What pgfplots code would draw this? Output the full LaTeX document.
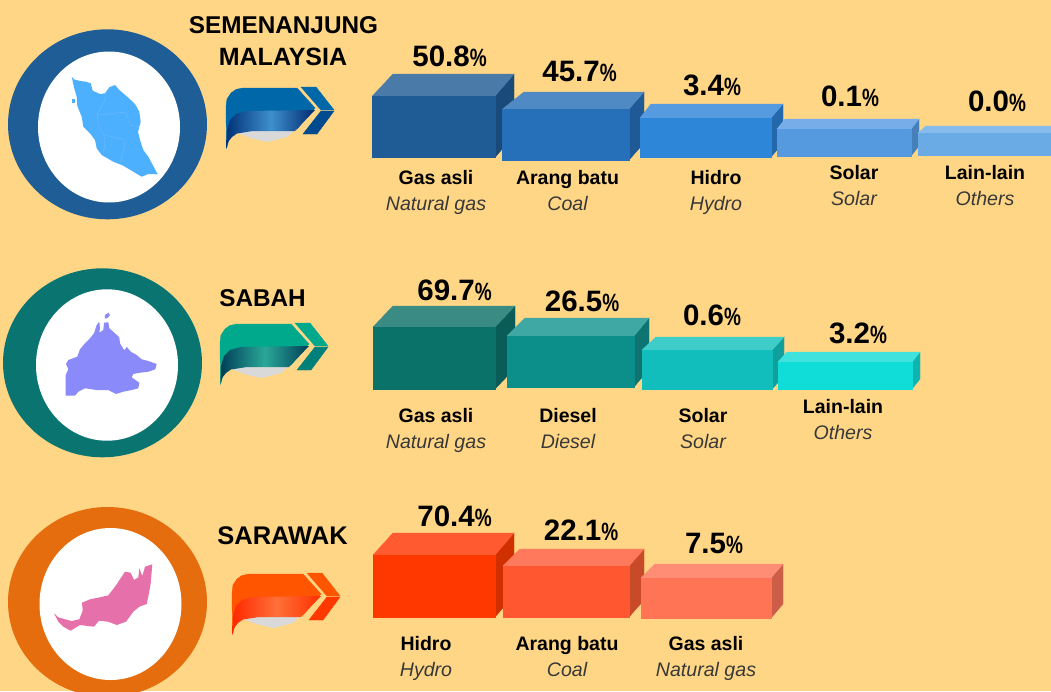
\documentclass[border=0pt]{standalone}
\usepackage{pgfplots}
\pgfplotsset{compat=1.18}
\usepackage{fontspec}
\setmainfont{Liberation Sans}
\definecolor{bgc}{HTML}{FFD685}
\definecolor{c1a}{HTML}{0068A8}\definecolor{c1b}{HTML}{003378}\definecolor{c1c}{HTML}{3F8FCC}\definecolor{c1d}{HTML}{002A70}\definecolor{c1e}{HTML}{004A90}
\definecolor{c2a}{HTML}{00A88C}\definecolor{c2b}{HTML}{003E58}\definecolor{c2c}{HTML}{2AA898}\definecolor{c2d}{HTML}{003E58}\definecolor{c2e}{HTML}{008078}
\definecolor{c3a}{HTML}{FF5500}\definecolor{c3b}{HTML}{FF2800}\definecolor{c3c}{HTML}{FF7038}\definecolor{c3d}{HTML}{FF3000}\definecolor{c3e}{HTML}{FF3800}
\newcommand{\bx}[9]{% prefix,xl,xr,yt,yb,bl,br,yback,yside-bottom
 \addplot[fill=#1s,draw=#1s,line width=.4pt,forget plot] coordinates {(#3,#4) (#7,#8) (#7,#9) (#3,#5)} --cycle;
 \addplot[fill=#1t,draw=#1t,line width=.4pt,forget plot] coordinates {(#2,#4) (#6,#8) (#7,#8) (#3,#4)} --cycle;
 \addplot[fill=#1f,draw=#1f,line width=.4pt,forget plot] coordinates {(#2,#4) (#3,#4) (#3,#5) (#2,#5)} --cycle;
}
\newcommand{\cols}[4]{\definecolor{#1f}{HTML}{#2}\definecolor{#1t}{HTML}{#3}\definecolor{#1s}{HTML}{#4}}
\newcommand{\val}[3]{\node[anchor=base,inner sep=0pt] at (axis cs:#1,#2) {{\fontsize{29.5}{29.5}\selectfont\bfseries #3}\scalebox{0.76}[1]{\fontsize{25}{25}\selectfont\bfseries\%}};}
\newcommand{\lab}[5]{%
 \node[anchor=base,inner sep=0pt] at (axis cs:#1,#2) {\fontsize{19.5}{19.5}\selectfont\bfseries #4};
 \node[anchor=base,inner sep=0pt,text=black!78] at (axis cs:#1,#3) {\fontsize{19.6}{19.6}\selectfont\itshape #5};}
\newcommand{\head}[4]{\node[anchor=base,inner sep=0pt] at (axis cs:#1,#2) {\fontsize{#4}{#4}\selectfont\bfseries #3};}
\newcommand{\ribbon}[7]{% xshift, yshift, top, dark left, mid, dark right, chevron low
 \addplot[fill=white!85!black,draw=none,forget plot,xshift=#1pt,yshift=#2pt] coordinates {(238,133) (253,130) (295,130) (287,137) (267,142) (250,138)} --cycle;
 \addplot[fill=#3,draw=#3,forget plot,xshift=#1pt,yshift=#2pt] coordinates {(226.5,148) (226,107) (227,99) (231,93) (236,89.5) (243,88) (297,88) (315,108) (297,129) (240,129) (230,136)} --cycle;
 \path[left color=#4,right color=#6,middle color=#5,draw=none,xshift=#1pt,yshift=#2pt] (axis cs:226.5,149) -- (axis cs:227,130) -- (axis cs:230,120) -- (axis cs:236,114) -- (axis cs:247,111) -- (axis cs:315,110) -- (axis cs:295,131) -- (axis cs:253,131) -- (axis cs:237,133.5) -- (axis cs:232,137) -- (axis cs:228,142) -- cycle;
 \addplot[fill=#3,draw=#3,forget plot,xshift=#1pt,yshift=#2pt] coordinates {(301,87) (316,87) (334,110) (321,110)} --cycle;
 \addplot[fill=#7,draw=#7,forget plot,xshift=#1pt,yshift=#2pt] coordinates {(321,111) (334,111) (317,134) (303,134)} --cycle;
}
\cols{a}{1F5C96}{4A7BA8}{1A4A7A}
\cols{b}{2570B8}{4F8AC4}{1F5A96}
\cols{d}{2E86D8}{569BE0}{2468AC}
\cols{e}{559ADF}{77ADE8}{4580B8}
\cols{g}{6BABE5}{85BCEC}{5590C0}
\cols{h}{0B7269}{3B8B85}{0A5C58}
\cols{i}{0C8F8B}{3FA8A4}{0D7472}
\cols{j}{11BEBC}{3ECDC9}{0F9F9D}
\cols{k}{10DCD8}{3FE2DC}{0EB5B0}
\cols{m}{FF3800}{FF5A30}{D03000}
\cols{n}{FF5730}{FF7A5C}{C84A28}
\cols{o}{FF7455}{FF8D75}{CC5E48}
\definecolor{mapa}{RGB}{77,176,255}
\definecolor{mapb}{RGB}{138,138,250}
\definecolor{mapc}{RGB}{230,112,170}
\definecolor{mapl}{RGB}{110,190,255}
\begin{document}
\begin{tikzpicture}
\begin{axis}[scale only axis,width=1051pt,height=691pt,xmin=0,xmax=1051,ymin=0,ymax=691,y dir=reverse,axis lines=none,clip=true]
\fill[bgc] (axis cs:0,0) rectangle (axis cs:1051,691);
% rings
\fill[fill={rgb,255:red,31;green,93;blue,150}] (axis cs:107.5,124.3) ellipse [x radius=99.5pt,y radius=95pt];
\fill[white] (axis cs:109,127) ellipse [x radius=71pt,y radius=75.5pt];
\fill[fill={rgb,255:red,10;green,117;blue,112}] (axis cs:102.5,362.8) ellipse [x radius=99.5pt,y radius=94.5pt];
\fill[white] (axis cs:107,365) ellipse [x radius=71pt,y radius=75.7pt];
\fill[fill={rgb,255:red,229;green,109;blue,13}] (axis cs:107.5,602) ellipse [x radius=99.5pt,y radius=95pt];
\fill[white] (axis cs:110.5,604) ellipse [x radius=71pt,y radius=76pt];
% maps
\addplot[fill=mapa,draw=none,forget plot] coordinates {(71.7,76.7) (74,79.3) (80,81) (86,81.7) (90.7,83.3) (92.7,90.7) (100,94) (105,93.3) (109.3,87.3) (115,85) (119.3,90) (128.3,97.7) (135,104) (139.3,111.7) (140.7,121.7) (138,131.7) (140,140) (143.3,150) (148.3,156.7) (152.7,165) (157.7,174.3) (148.3,174) (141.7,176.7) (133.3,171.7) (123.3,165.7) (113.3,161.7) (101.7,155) (96.7,148.3) (95,140) (90,133.3) (83.3,126.7) (81.7,116.7) (77.3,106) (76.7,96.7) (74,87.3)} --cycle;
\addplot[fill=mapa,draw=none,forget plot] coordinates {(72,99) (75,99) (75,103) (72,103)} --cycle;
\addplot[draw=mapl,line width=.35pt,forget plot] coordinates {(106,93) (104,102) (97,115) (99,127) (104,135) (105,146) (103,152)};
\addplot[draw=mapl,line width=.35pt,forget plot] coordinates {(97,115) (108,114) (126,112) (130,125) (139,127)};
\addplot[draw=mapl,line width=.35pt,forget plot] coordinates {(105,135) (125,140) (124,150) (120,163)};
\addplot[fill=mapb,draw=none,forget plot] coordinates {(65.7,395.7) (65.7,375) (68.3,369.3) (66,364) (68.3,360) (77.3,356.7) (80,349.3) (85,343.3) (90,338.3) (94,333.3) (96.7,325) (99.3,321.7) (100,328.3) (99.3,332.7) (103.3,330) (104,322.7) (108.3,322.3) (109.3,328.3) (115,333.3) (119.3,337.3) (120,343.3) (124,350) (126,348.3) (126.7,346.7) (130.7,351.7) (136.7,355) (141.7,359.3) (148.3,361) (156.7,364) (155.3,369.3) (148.3,371.7) (140,372.7) (133.3,374) (131.7,377.3) (139.3,382.7) (138.3,388.3) (131.7,390) (123.3,391.7) (116,394) (108.3,390) (96.7,390) (85,388.3) (78.3,391.7) (75,395.7)} --cycle;
\addplot[fill=mapb,draw=none,forget plot] coordinates {(105,315) (108.3,312.7) (110,315) (107.3,318.3) (104.7,318.3)} --cycle;
\addplot[fill=mapc,draw=none,forget plot] coordinates {(54,613.3) (58.3,617.3) (65,619.3) (71.7,621) (79.3,619.3) (82.7,610.7) (82,602.7) (90,599.3) (100,597.3) (108.3,595.3) (115,586.7) (120.7,578.3) (125,571.7) (130.7,572.7) (134,580) (138.3,577.3) (139.3,568.3) (142.3,576) (145,566.7) (152.3,564.3) (150.7,583.3) (148.3,596.7) (146.7,604) (139.3,606.7) (133.3,611.7) (126,621.7) (116.7,625) (108.3,621.7) (99,620.7) (94,626.7) (80,625) (70.7,630.7) (63.3,626.7) (58.3,621.7)} --cycle;
% ribbons
\ribbon{0}{0}{c1a}{c1b}{c1c}{c1d}{c1e}
\ribbon{-6}{-236}{c2a}{c2b}{c2c}{c2d}{c2e}
\ribbon{6}{-486}{c3a}{c3b}{c3c}{c3d}{c3e}
% row 1 bars
\bx{a}{372.5}{495}{96}{157.5}{393}{514}{74}{135}
\bx{b}{502.5}{629}{109}{160}{524}{644}{92}{143}
\bx{d}{640}{771}{118}{157}{651}{783}{104}{143}
\bx{e}{777}{911}{129}{156}{785}{919}{119}{146}
\bx{g}{918}{1060}{133}{155}{926}{1068}{126}{148}
% row 2 bars
\bx{h}{373}{495}{327}{389}{393}{515}{306}{368}
\bx{i}{507}{634}{336}{387}{525}{649}{318}{369}
\bx{j}{642}{772}{350}{389}{656}{784}{337}{376}
\bx{k}{778}{912}{362}{389}{787}{920}{352}{379}
% row 3 bars
\bx{m}{373}{495}{555}{617}{393}{514}{533}{595}
\bx{n}{503}{629}{566}{617}{520}{644}{549}{600}
\bx{o}{641}{771}{578}{618}{655}{783}{564}{604}
% headings
\head{283.5}{33}{SEMENANJUNG}{24.3}
\head{283}{65}{MALAYSIA}{25}
\head{262.5}{306}{SABAH}{24.3}
\head{282.5}{544}{SARAWAK}{25.5}
% values
\val{449.5}{66}{50.8}
\val{579.5}{81}{45.7}
\val{712}{95}{3.4}
\val{850}{106}{0.1}
\val{997}{111}{0.0}
\val{454.5}{300}{69.7}
\val{582}{311}{26.5}
\val{712}{325}{0.6}
\val{858}{343}{3.2}
\val{454.5}{526}{70.4}
\val{581}{540}{22.1}
\val{714}{553}{7.5}
% labels
\lab{436}{184}{210}{Gas asli}{Natural gas}
\lab{567.5}{184}{210}{Arang batu}{Coal}
\lab{716}{184}{210}{Hidro}{Hydro}
\lab{854}{179}{205}{Solar}{Solar}
\lab{985}{179}{205}{Lain-lain}{Others}
\lab{436}{422}{448}{Gas asli}{Natural gas}
\lab{568}{422}{448}{Diesel}{Diesel}
\lab{703}{422}{448}{Solar}{Solar}
\lab{843}{413}{439}{Lain-lain}{Others}
\lab{426}{650}{676}{Hidro}{Hydro}
\lab{567}{650}{676}{Arang batu}{Coal}
\lab{706}{650}{676}{Gas asli}{Natural gas}
\end{axis}
\end{tikzpicture}
\end{document}
